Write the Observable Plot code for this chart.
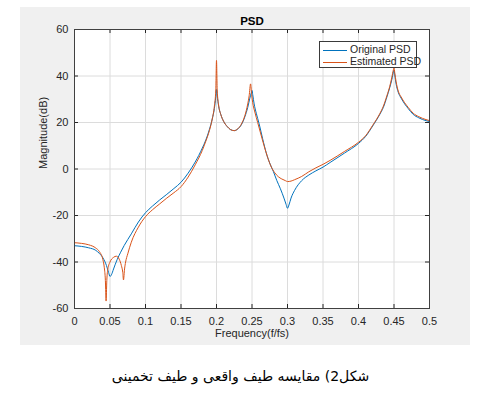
<!DOCTYPE html>
<html>
<head>
<meta charset="utf-8">
<script src="https://cdn.jsdelivr.net/npm/d3@7"></script>
<script src="https://cdn.jsdelivr.net/npm/@observablehq/plot@0.6"></script>
<style>
  html, body { margin: 0; padding: 0; background: #ffffff; }
  body { width: 481px; height: 397px; position: relative; overflow: hidden; font-family: "Liberation Sans", Arial, sans-serif; }
  #fig { position: absolute; left: 20px; top: 7px; width: 450px; height: 338px; background: #f0f0f0; }
  #fig svg { position: absolute; left: 0; top: 0; }
  #legend { position: absolute; left: 299px; top: 34px; width: 98px; height: 27px; background: #ffffff; border: 1px solid #3a3a3a; box-sizing: border-box; font-size: 10.5px; color: #262626; }
  .item { position: absolute; left: 3px; height: 13px; line-height: 13px; white-space: nowrap; }
  .item span.swatch { display: inline-block; width: 24px; height: 0; vertical-align: middle; margin-right: 3px; }
  #caption { position: absolute; left: 0; width: 481px; top: 368px; text-align: center; direction: rtl; font-family: "DejaVu Sans", sans-serif; font-size: 14px; color: #000; }
</style>
</head>
<body>
<div id="fig"></div>
<div id="caption" dir="rtl">شکل2) مقایسه طیف واقعی و طیف تخمینی</div>
<script>
// ---- Data ----
const seriesNames = ["Original PSD", "Estimated PSD"];
const seriesColors = ["#0072BD", "#D95319"];

const origF = [0, 0.01, 0.02, 0.03, 0.035, 0.04, 0.045, 0.048, 0.05, 0.052, 0.055, 0.06, 0.065, 0.07, 0.08, 0.09,
  0.1, 0.11, 0.12, 0.13, 0.14, 0.15, 0.16, 0.17, 0.18, 0.185, 0.19, 0.194, 0.197, 0.199, 0.2, 0.201, 0.203, 0.206,
  0.21, 0.215, 0.22, 0.225, 0.23, 0.235, 0.24, 0.244, 0.247, 0.249, 0.25, 0.251, 0.253, 0.256, 0.26, 0.265, 0.27,
  0.275, 0.28, 0.285, 0.29, 0.295, 0.298, 0.3, 0.302, 0.305, 0.31, 0.32, 0.33, 0.34, 0.35, 0.36, 0.38, 0.4, 0.41,
  0.42, 0.43, 0.435, 0.44, 0.444, 0.447, 0.449, 0.45, 0.451, 0.453, 0.456, 0.46, 0.465, 0.47, 0.477, 0.485, 0.49, 0.5];
const origDb = [-33, -33.3, -33.9, -35, -36.3, -38.2, -41.5, -44.5, -46.2, -45.5, -43, -39, -35.8, -32.9, -27.9, -22.8,
  -18.8, -15.9, -13.3, -10.9, -8.4, -5.7, -1.8, 3, 9, 12.5, 17, 21.5, 26, 31, 34.2, 31.5, 27, 23.5,
  20.5, 18.3, 16.9, 16.5, 17.2, 19, 22.5, 26.5, 30.5, 32.8, 33.8, 32, 28, 24, 19.5, 13, 7,
  2.5, -1, -5, -8.5, -12.5, -15.2, -16.9, -15.5, -12.5, -9.2, -5, -2.6, -0.8, 0.8, 2.8, 6.8, 11, 14,
  18.5, 23.5, 26.5, 31, 35, 38.5, 41.5, 42.5, 40.5, 36.5, 33, 30.5, 28, 26, 23.5, 22, 21.3, 20.4];

const estF = [0, 0.01, 0.02, 0.03, 0.035, 0.04, 0.042, 0.0435, 0.0445, 0.0455, 0.047, 0.05, 0.055, 0.059, 0.063, 0.066,
  0.068, 0.069, 0.0705, 0.072, 0.075, 0.08, 0.09, 0.1, 0.11, 0.12, 0.13, 0.14, 0.15, 0.16, 0.17, 0.18, 0.185, 0.19,
  0.194, 0.197, 0.199, 0.2, 0.201, 0.203, 0.206, 0.21, 0.215, 0.22, 0.225, 0.23, 0.235, 0.24, 0.244, 0.246, 0.248,
  0.2495, 0.251, 0.254, 0.258, 0.262, 0.267, 0.272, 0.277, 0.282, 0.287, 0.292, 0.297, 0.3, 0.305, 0.31, 0.32, 0.33,
  0.34, 0.35, 0.36, 0.38, 0.4, 0.41, 0.42, 0.43, 0.435, 0.44, 0.444, 0.447, 0.449, 0.45, 0.451, 0.453, 0.456, 0.46,
  0.465, 0.47, 0.477, 0.485, 0.49, 0.5];
const estDb = [-31.7, -32, -32.6, -34, -35.5, -39, -42.5, -48, -56.8, -48, -43, -40, -38, -37.5, -38.8, -41.5,
  -44.5, -47.7, -43, -40, -36.5, -31.5, -25, -20.5, -17.5, -15, -12.5, -10.2, -7.6, -3.5, 1.8, 8, 12, 16.5,
  21.5, 27, 34, 46.7, 34, 27.5, 23.5, 20.5, 18.3, 16.9, 16.5, 17.3, 19.3, 23, 28, 31.5, 36.6,
  32, 28.5, 24.5, 20, 15.5, 10, 5, 1, -1.6, -3.3, -4.3, -5, -5.4, -5.2, -4.6, -3.2, -1.2,
  0.5, 2, 3.7, 7.5, 11.5, 14.3, 18.8, 23.8, 27, 31.5, 35.5, 39.5, 42.5, 43.5, 41.5, 37.5, 33.5, 31,
  28.5, 26.5, 24, 22.5, 21.8, 20.8];

const xTicks = [0, 0.05, 0.1, 0.15, 0.2, 0.25, 0.3, 0.35, 0.4, 0.45, 0.5];
const yTicks = [-60, -40, -20, 0, 20, 40, 60];
const xTickLabels = ["0", "0.05", "0.1", "0.15", "0.2", "0.25", "0.3", "0.35", "0.4", "0.45", "0.5"];
const yTickLabels = ["-60", "-40", "-20", "0", "20", "40", "60"];
const titleText = "PSD";
const xLabel = "Frequency(f/fs)";
const yLabel = "Magnitude(dB)";

// ---- Build tables ----
const orig = origF.map((f, i) => ({f, db: origDb[i]}));
const est = estF.map((f, i) => ({f, db: estDb[i]}));

const W = 450, H = 338;
const mL = 54, mR = 41, mT = 22, mB = 37;
const plotW = W - mL - mR, plotH = H - mT - mB;
const tickLen = 4;
const axisColor = "#262626";
const fontFam = "'Liberation Sans', Arial, sans-serif";

const chart = Plot.plot({
  width: W,
  height: H,
  marginLeft: mL, marginRight: mR, marginTop: mT, marginBottom: mB,
  style: {background: "transparent", fontFamily: fontFam, fontSize: "11px", color: axisColor},
  x: {domain: [0, 0.5], ticks: xTicks},
  y: {domain: [-60, 60], ticks: yTicks},
  marks: [
    Plot.frame({fill: "white", stroke: "none"}),
    Plot.gridX(xTicks, {stroke: "#dcdcdc", strokeOpacity: 1, strokeWidth: 1}),
    Plot.gridY(yTicks, {stroke: "#dcdcdc", strokeOpacity: 1, strokeWidth: 1}),
    Plot.line(orig, {x: "f", y: "db", stroke: seriesColors[0], strokeWidth: 1, curve: "monotone-x"}),
    Plot.line(est, {x: "f", y: "db", stroke: seriesColors[1], strokeWidth: 1, curve: "monotone-x"}),
    // inward ticks on all four sides
    Plot.tickX(xTicks, {x: d => d, stroke: axisColor, insetTop: plotH - tickLen}),
    Plot.tickX(xTicks, {x: d => d, stroke: axisColor, insetBottom: plotH - tickLen}),
    Plot.tickY(yTicks, {y: d => d, stroke: axisColor, insetRight: plotW - tickLen}),
    Plot.tickY(yTicks, {y: d => d, stroke: axisColor, insetLeft: plotW - tickLen}),
    Plot.frame({stroke: "#404040", strokeWidth: 1}),
    Plot.axisX(xTicks, {tickSize: 0, tickPadding: 9, tickFormat: (d, i) => xTickLabels[i], fill: axisColor, fontSize: 11, label: null}),
    Plot.axisY(yTicks, {tickSize: 0, tickPadding: 6, tickFormat: (d, i) => yTickLabels[i], fill: axisColor, fontSize: 11, label: null}),
    Plot.text([titleText], {frameAnchor: "top", dy: -13, fontWeight: "bold", fontSize: 11.5, fill: "#000"}),
    Plot.text([xLabel], {frameAnchor: "bottom", dy: 28, fontSize: 11, fill: axisColor}),
    Plot.text([yLabel], {frameAnchor: "left", dx: -31, rotate: -90, fontSize: 11, fill: axisColor})
  ]
});
const fig = document.getElementById("fig");
fig.appendChild(chart);

// ---- Legend ----
const legend = document.createElement("div");
legend.id = "legend";
seriesNames.forEach((name, i) => {
  const it = document.createElement("div");
  it.className = "item";
  it.style.top = (i === 0 ? 1 : 13) + "px";
  const sw = document.createElement("span");
  sw.className = "swatch";
  sw.style.borderTop = "1.5px solid " + seriesColors[i];
  it.appendChild(sw);
  it.appendChild(document.createTextNode(name));
  legend.appendChild(it);
});
fig.appendChild(legend);
</script>
</body>
</html>
